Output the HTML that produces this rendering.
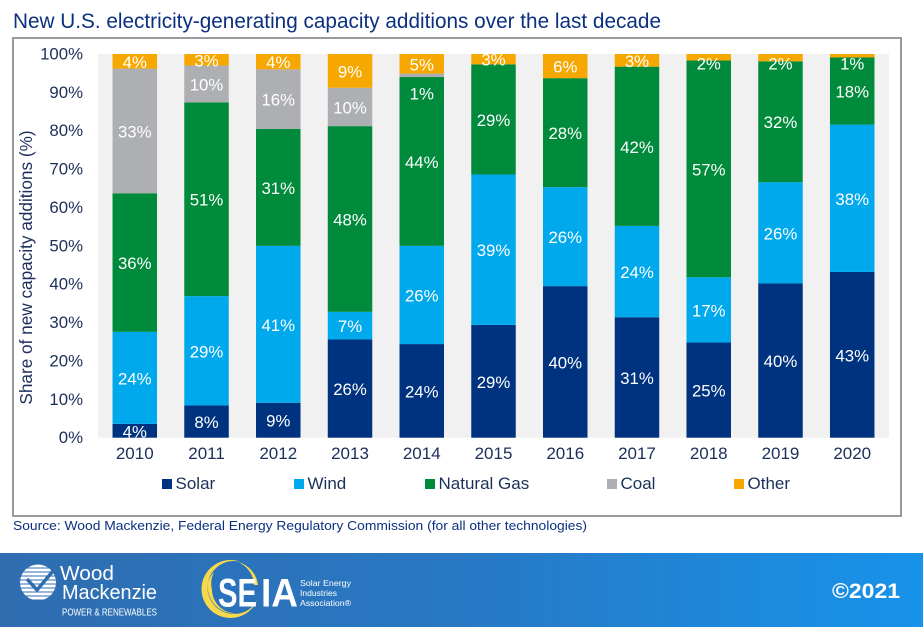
<!DOCTYPE html>
<html lang="en">
<head>
<meta charset="utf-8">
<title>New U.S. electricity-generating capacity additions</title>
<style>
html,body{margin:0;padding:0;background:#fff;width:923px;height:627px;overflow:hidden}
svg{display:block;font-family:"Liberation Sans",Arial,sans-serif}
</style>
</head>
<body>
<svg id="chart" width="923" height="627" viewBox="0 0 923 627" xmlns="http://www.w3.org/2000/svg">
  <defs>
    <linearGradient id="bannerGrad" x1="0" y1="0" x2="1" y2="0">
      <stop offset="0" stop-color="#2f6db0"/>
      <stop offset="0.5" stop-color="#2878c4"/>
      <stop offset="1" stop-color="#1793ea"/>
    </linearGradient>
    <clipPath id="globeClip"><circle cx="38" cy="582.5" r="18"/></clipPath>
  </defs>
  <rect x="0" y="0" width="923" height="627" fill="#ffffff"/>
  <text x="13" y="28" font-size="21" fill="#0b3080" textLength="648" lengthAdjust="spacingAndGlyphs">New U.S. electricity-generating capacity additions over the last decade</text>
  <rect x="13" y="38" width="888" height="478" fill="#ffffff" stroke="#999a9e" stroke-width="2"/>
  <rect x="98" y="54" width="791" height="383.7" fill="#f1f1f1"/>
  <g id="bars"></g>
  <g id="labels"></g>
  <g id="yAxis"></g>
  <g id="xAxis"></g>
  <text transform="translate(32,267.5) rotate(-90)" text-anchor="middle" font-size="17.2" fill="#1c2f5a">Share of new capacity additions (%)</text>
  <g id="legend"></g>
  <text x="13" y="530" font-size="13" fill="#0b3080" textLength="574" lengthAdjust="spacingAndGlyphs">Source: Wood Mackenzie, Federal Energy Regulatory Commission (for all other technologies)</text>

  <rect x="0" y="553" width="923" height="74" fill="url(#bannerGrad)"/>
  <g>
    <g clip-path="url(#globeClip)" fill="#ffffff">
      <rect x="18" y="564.5" width="40" height="3"/>
      <rect x="18" y="568.5" width="40" height="3"/>
      <rect x="18" y="572.5" width="40" height="3"/>
      <rect x="18" y="576.5" width="40" height="3"/>
      <rect x="18" y="580.5" width="40" height="3"/>
      <rect x="18" y="584.5" width="40" height="3"/>
      <rect x="18" y="588.5" width="40" height="3"/>
      <rect x="18" y="592.5" width="40" height="3"/>
      <rect x="18" y="596.5" width="40" height="3"/>
    </g>
    <path d="M27 579 L37 590 L53 571" fill="none" stroke="#2f6db0" stroke-width="3.5"/>
    <text x="60" y="580" font-size="20.5" fill="#ffffff" textLength="54" lengthAdjust="spacingAndGlyphs">Wood</text>
    <text x="62" y="599" font-size="20" fill="#ffffff" textLength="95" lengthAdjust="spacingAndGlyphs">Mackenzie</text>
    <text x="62" y="615.5" font-size="10" fill="#ffffff" textLength="95" lengthAdjust="spacingAndGlyphs">POWER &amp; RENEWABLES</text>
  </g>
  <g>
    <circle cx="230.500" cy="589" r="29" fill="#f6d84c"/>
    <circle cx="234" cy="587.500" r="26.500" fill="#2a72bb"/>
    <path d="M208 582 A27 27 0 0 0 240 613 A24 24 0 0 1 212 590 A26 26 0 0 1 214 572 A26 26 0 0 0 208 582 Z" fill="#f6d84c"/>
    <path d="M238 562 A27 27 0 0 1 258 585 L254 585 A26 26 0 0 0 238 562 Z" fill="#f6d84c"/>
    <text x="218" y="606.5" font-size="40" font-weight="bold" fill="#ffffff" textLength="39" lengthAdjust="spacingAndGlyphs">SE</text>
    <text x="261" y="606.5" font-size="40" font-weight="bold" fill="#ffffff" textLength="37" lengthAdjust="spacingAndGlyphs">IA</text>
    <text x="300" y="586" font-size="8.5" fill="#ffffff" textLength="51" lengthAdjust="spacingAndGlyphs">Solar Energy</text>
    <text x="300" y="596" font-size="8.5" fill="#ffffff" textLength="37" lengthAdjust="spacingAndGlyphs">Industries</text>
    <text x="300" y="606" font-size="8.5" fill="#ffffff" textLength="51" lengthAdjust="spacingAndGlyphs">Association®</text>
  </g>
  <text x="832" y="598" font-size="21" font-weight="bold" fill="#ffffff" textLength="68" lengthAdjust="spacingAndGlyphs">©2021</text>
</svg>
<script>
const years = [2010, 2011, 2012, 2013, 2014, 2015, 2016, 2017, 2018, 2019, 2020];
const solar = [3.6, 8.4, 9.1, 25.6, 24.4, 29.4, 39.5, 31.4, 24.8, 40.2, 43.2];
const wind = [24.0, 28.5, 40.9, 7.2, 25.6, 39.2, 25.8, 23.8, 17.0, 26.4, 38.4];
const naturalGas = [36.1, 50.5, 30.5, 48.4, 44.0, 28.7, 28.4, 41.5, 56.5, 31.5, 17.5];
const coal = [32.5, 9.6, 15.5, 10.0, 0.9, 0, 0, 0, 0, 0, 0];
const other = [3.8, 3.0, 4.0, 8.8, 5.1, 2.7, 6.3, 3.3, 1.7, 1.9, 0.9];
const yTicks = [0, 10, 20, 30, 40, 50, 60, 70, 80, 90, 100];

const seriesList = [
  {key: 'solar', title: 'Solar', values: solar, color: '#00337f'},
  {key: 'wind', title: 'Wind', values: wind, color: '#00a9ec'},
  {key: 'natural-gas', title: 'Natural Gas', values: naturalGas, color: '#008a3b'},
  {key: 'coal', title: 'Coal', values: coal, color: '#adafb2'},
  {key: 'other', title: 'Other', values: other, color: '#f7a800'}
];

const NS = 'http://www.w3.org/2000/svg';
const plot = {left: 98.9, right: 888.1, top: 54, bottom: 437.7};
const bandWidth = (plot.right - plot.left) / years.length;
const barWidth = 44.5;
const xCenter = function (i) { return plot.left + bandWidth * (i + 0.5); };
const yScale = function (v) { return plot.bottom - (v / 100) * (plot.bottom - plot.top); };

function make(tag, attrs, parent, text) {
  const el = document.createElementNS(NS, tag);
  Object.keys(attrs).forEach(function (k) { el.setAttribute(k, attrs[k]); });
  if (text !== undefined) el.textContent = text;
  parent.appendChild(el);
  return el;
}

const barsG = document.getElementById('bars');
const labelsG = document.getElementById('labels');
const yAxisG = document.getElementById('yAxis');
const xAxisG = document.getElementById('xAxis');
const legendG = document.getElementById('legend');

// Very thin slices print their label below the slice, inside the segment underneath.
function labelShift(value, base) {
  if (value >= 2.5) return 0.5;
  if (base > 95) return value < 1.2 ? 8 : 6;
  return 18;
}

years.forEach(function (year, i) {
  let cumulative = 0;
  seriesList.forEach(function (s) {
    const v = s.values[i];
    const y1 = yScale(cumulative);
    const y2 = yScale(cumulative + v);
    if (v > 0) {
      const rect = make('rect', {x: xCenter(i) - barWidth / 2, y: y2, width: barWidth, height: y1 - y2, fill: s.color}, barsG);
      
      
      const label = make('text', {
        x: xCenter(i),
        y: (y1 + y2) / 2 + 6 + labelShift(v, cumulative),
        'text-anchor': 'middle',
        'font-size': 16.8,
        fill: '#ffffff'
      }, labelsG, Math.round(v) + '%');
      
      
    }
    cumulative += v;
  });
  const yearLabel = make('text', {x: xCenter(i), y: 459, 'text-anchor': 'middle', 'font-size': 17, fill: '#1c2f5a'}, xAxisG, String(year));
  
  
});

yTicks.forEach(function (t) {
  const tick = make('text', {x: 83, y: yScale(t) + 5.5, 'text-anchor': 'end', 'font-size': 16.8, fill: '#1c2f5a'}, yAxisG, t + '%');
  
  
});

const legendStart = [162, 294, 425, 607, 734];
seriesList.forEach(function (s, i) {
  const swatch = make('rect', {x: legendStart[i], y: 479, width: 10, height: 10, fill: s.color}, legendG);
  
  
  const entry = make('text', {x: legendStart[i] + 13.5, y: 489, 'font-size': 17, fill: '#1c2f5a'}, legendG, s.title);
  
  
});
</script>
</body>
</html>
